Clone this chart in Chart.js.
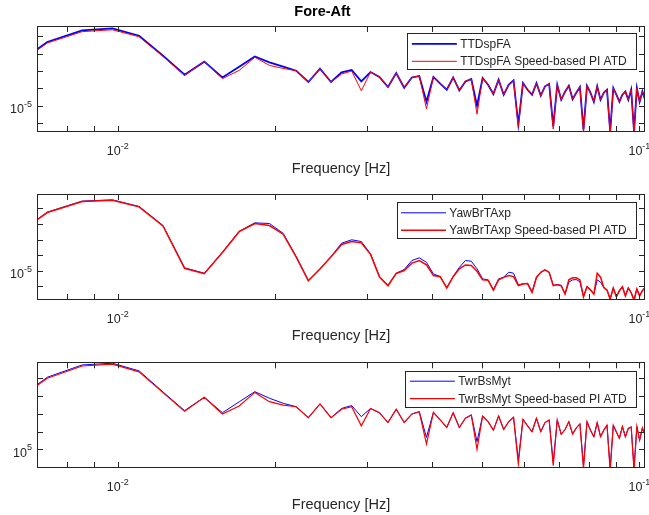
<!DOCTYPE html>
<html lang="en">
<head>
<meta charset="UTF-8">
<title>Fore-Aft</title>
<script src="https://cdn.jsdelivr.net/npm/chart.js"></script>
<style>
  body { margin: 0; background: #fff; }
  .panel { position: absolute; left: 0; width: 649px; }
</style>
</head>
<body>
<div class="panel" style="top:0;height:180px"><canvas id="chartFA"></canvas></div>
<div class="panel" style="top:180px;height:168px"><canvas id="chartYaw"></canvas></div>
<div class="panel" style="top:348px;height:167px"><canvas id="chartTwr"></canvas></div>

<script>
// frequency bins [Hz]
const freq = [
  0.0061035, 0.0073242, 0.0085449, 0.0097656, 0.010986, 0.012207, 0.013428, 0.014648, 0.015869, 0.01709,
  0.018311, 0.019531, 0.020752, 0.021973, 0.023193, 0.024414, 0.025635, 0.026855, 0.028076, 0.029297,
  0.030518, 0.031738, 0.032959, 0.03418, 0.0354, 0.036621, 0.037842, 0.039063, 0.040283, 0.041504,
  0.042725, 0.043945, 0.045166, 0.046387, 0.047607, 0.048828, 0.050049, 0.05127, 0.05249, 0.053711,
  0.054932, 0.056152, 0.057373, 0.058594, 0.059814, 0.061035, 0.062256, 0.063477, 0.064697, 0.065918,
  0.067139, 0.068359, 0.06958, 0.070801, 0.072021, 0.073242, 0.074463, 0.075684, 0.076904, 0.078125,
  0.079346, 0.080566, 0.081787, 0.083008, 0.084229, 0.085449, 0.08667, 0.087891, 0.089111, 0.090332,
  0.091553, 0.092773, 0.093994, 0.095215, 0.096436, 0.097656, 0.098877, 0.1001, 0.10132, 0.10254
];

// TTDspFA
const faBase = [
  8.4e-4, 4.6e-2, 0.213, 0.277, 0.105, 7.5e-3, 6.0e-4, 3.4e-3, 4.2e-4, 1.74e-3,
  6.8e-3, 3.1e-3, 1.74e-3, 1.03e-3, 2.3e-4, 1.34e-3, 2.3e-4, 8.2e-4, 1.13e-3, 2.5e-4,
  8.6e-4, 4.5e-4, 1.19e-4, 7.6e-4, 1.08e-4, 4.2e-4, 5.1e-4, 1.7e-5, 4.5e-4, 1.84e-4,
  8.3e-5, 4.2e-4, 7.6e-5, 2.5e-4, 3.4e-4, 1.0e-5, 3.9e-4, 1.6e-4, 4.7e-5, 3.1e-4,
  4.3e-5, 1.6e-4, 2.9e-4, 8.6e-7, 2.0e-4, 8.3e-5, 4.3e-5, 2.0e-4, 3.8e-5, 1.3e-4,
  1.8e-4, 6.5e-7, 1.6e-4, 2.2e-5, 6.4e-5, 1.4e-4, 2.4e-5, 5.6e-5, 1.2e-4, 4.2e-7,
  1.4e-4, 5.6e-5, 1.7e-5, 1.3e-4, 2.2e-5, 5.6e-5, 8.3e-5, 3.3e-7, 1.04e-4, 4.3e-5,
  1.7e-5, 4.3e-5, 6.6e-5, 2.2e-5, 8.3e-5, 3.3e-7, 1.04e-4, 1.7e-5, 6.6e-5, 2.2e-5
];
const faAtd = [
  8.4e-4, 4.0e-2, 0.18, 0.23, 0.092, 6.8e-3, 5.6e-4, 3.4e-3, 3.6e-4, 1.07e-3,
  6.1e-3, 2.07e-3, 1.39e-3, 1.03e-3, 2.3e-4, 1.34e-3, 2.3e-4, 6.6e-4, 9.9e-4, 7.3e-5,
  8.6e-4, 4.5e-4, 1.19e-4, 7.6e-4, 1.08e-4, 4.2e-4, 5.1e-4, 6.7e-6, 4.5e-4, 1.84e-4,
  8.3e-5, 4.2e-4, 7.6e-5, 2.5e-4, 3.4e-4, 3.3e-6, 3.9e-4, 1.6e-4, 4.7e-5, 3.1e-4,
  4.3e-5, 1.6e-4, 2.9e-4, 6.0e-7, 2.0e-4, 8.3e-5, 4.3e-5, 2.0e-4, 3.8e-5, 1.3e-4,
  1.8e-4, 4.5e-7, 1.6e-4, 2.2e-5, 6.4e-5, 1.4e-4, 2.4e-5, 5.6e-5, 1.2e-4, 3.0e-7,
  1.4e-4, 5.6e-5, 1.7e-5, 1.3e-4, 2.2e-5, 5.6e-5, 8.3e-5, 2.5e-7, 1.04e-4, 4.3e-5,
  1.7e-5, 4.3e-5, 6.6e-5, 2.2e-5, 8.3e-5, 2.5e-7, 1.04e-4, 1.7e-5, 6.6e-5, 2.2e-5
];

// YawBrTAxp
const yawBase = [
  6.8e-4, 5.8e-2, 0.30, 0.36, 0.135, 8.0e-3, 1.5e-5, 6.7e-6, 1.5e-4, 3.4e-3,
  1.19e-2, 1.08e-2, 2.5e-3, 8.0e-5, 2.3e-6, 1.3e-5, 8.0e-5, 5.8e-4, 9.6e-4, 7.4e-4,
  1.2e-4, 4.1e-6, 1.1e-6, 6.7e-6, 1.16e-5, 4.4e-5, 6.6e-5, 3.4e-5, 6.1e-6, 4.1e-6,
  7.7e-7, 4.1e-6, 1.6e-5, 4.4e-5, 4.0e-5, 1.3e-5, 2.9e-6, 2.5e-6, 5.7e-7, 2.9e-6,
  3.7e-6, 7.8e-6, 6.7e-6, 1.2e-6, 1.4e-6, 1.5e-6, 4.0e-7, 3.7e-6, 7.8e-6, 1.1e-5,
  7.8e-6, 1.1e-6, 1.25e-6, 1.1e-6, 3.1e-7, 1.8e-6, 2.5e-6, 2.6e-6, 1.9e-6, 2.1e-7,
  9.3e-7, 5.9e-7, 3.1e-7, 2.5e-6, 1.8e-6, 8.0e-7, 5.7e-7, 1.5e-7, 7.7e-7, 2.1e-7,
  5.1e-7, 9.3e-7, 2.4e-7, 7.7e-7, 3.8e-7, 1.3e-7, 6.6e-7, 2.4e-7, 5.1e-7, 8.4e-7
];
const yawAtd = [
  6.8e-4, 5.5e-2, 0.28, 0.34, 0.128, 7.5e-3, 1.4e-5, 6.3e-6, 1.45e-4, 3.2e-3,
  1.07e-2, 8.0e-3, 2.2e-3, 7.5e-5, 2.2e-6, 1.25e-5, 7.6e-5, 4.75e-4, 7.4e-4, 6.1e-4,
  1.1e-4, 3.9e-6, 1.05e-6, 6.5e-6, 1.0e-5, 3.0e-5, 4.4e-5, 2.3e-5, 4.75e-6, 4.0e-6,
  7.5e-7, 4.0e-6, 1.29e-5, 2.3e-5, 2.1e-5, 9.0e-6, 2.5e-6, 2.4e-6, 5.5e-7, 2.5e-6,
  3.6e-6, 4.75e-6, 4.1e-6, 1.08e-6, 1.35e-6, 1.45e-6, 3.9e-7, 3.6e-6, 7.6e-6, 1.1e-5,
  7.6e-6, 1.05e-6, 1.2e-6, 1.05e-6, 3.0e-7, 2.5e-6, 3.4e-6, 3.4e-6, 2.5e-6, 2.0e-7,
  9.0e-7, 5.7e-7, 3.0e-7, 6.7e-6, 3.7e-6, 8.0e-7, 5.5e-7, 1.4e-7, 7.5e-7, 2.0e-7,
  5.0e-7, 9.0e-7, 2.3e-7, 7.5e-7, 3.7e-7, 1.2e-7, 6.5e-7, 2.3e-7, 5.0e-7, 8.2e-7
];

// TwrBsMyt
const twrBase = [
  2.3e7, 1.14e9, 5.6e9, 7.0e9, 2.6e9, 1.7e8, 1.5e7, 8.5e7, 1.15e7, 4.7e7,
  1.76e8, 7.5e7, 3.9e7, 2.5e7, 6.0e6, 3.6e7, 6.0e6, 2.0e7, 2.9e7, 6.9e6,
  2.0e7, 1.15e7, 3.2e6, 1.8e7, 3.2e6, 9.7e6, 1.3e7, 4.7e5, 1.2e7, 4.5e6,
  1.7e6, 1.15e7, 1.7e6, 5.6e6, 8.6e6, 2.7e5, 7.5e6, 3.6e6, 1.2e6, 7.5e6,
  1.3e6, 3.6e6, 6.4e6, 2.5e4, 4.9e6, 2.1e6, 9.8e5, 5.6e6, 9.8e5, 3.2e6,
  4.5e6, 1.8e4, 4.5e6, 7.0e5, 1.3e6, 3.6e6, 7.2e5, 1.6e6, 2.7e6, 1.2e4,
  3.6e6, 1.2e6, 5.1e5, 3.2e6, 5.1e5, 1.2e6, 2.3e6, 8.8e3, 2.3e6, 9.4e5,
  4.2e5, 1.9e6, 5.1e5, 1.5e6, 1.8e6, 8.8e3, 1.9e6, 3.3e5, 1.6e6, 6.4e5
];
const twrAtd = [
  2.3e7, 1.0e9, 4.9e9, 6.2e9, 2.3e9, 1.55e8, 1.4e7, 8.5e7, 9.7e6, 2.75e7,
  1.6e8, 4.8e7, 3.1e7, 2.5e7, 6.0e6, 3.6e7, 6.0e6, 1.8e7, 2.5e7, 2.1e6,
  2.0e7, 1.15e7, 3.2e6, 1.8e7, 3.2e6, 9.7e6, 1.3e7, 2.0e5, 1.2e7, 4.5e6,
  1.7e6, 1.15e7, 1.7e6, 5.6e6, 8.6e6, 1.0e5, 7.5e6, 3.6e6, 1.2e6, 7.5e6,
  1.3e6, 3.6e6, 6.4e6, 1.5e4, 4.9e6, 2.1e6, 9.8e5, 5.6e6, 9.8e5, 3.2e6,
  4.5e6, 1.2e4, 4.5e6, 7.0e5, 1.3e6, 3.6e6, 7.2e5, 1.6e6, 2.7e6, 8.0e3,
  3.6e6, 1.2e6, 5.1e5, 3.2e6, 5.1e5, 1.2e6, 2.3e6, 6.0e3, 2.3e6, 9.4e5,
  4.2e5, 1.9e6, 5.1e5, 1.5e6, 1.8e6, 6.0e3, 1.9e6, 3.3e5, 1.6e6, 6.4e5
];

// axis ticks
const xTicks = [0.008, 0.009, 0.01, 0.02, 0.03, 0.04, 0.05, 0.06, 0.07, 0.08, 0.09, 0.1];
const xTickLabels = [[0.01, '-2'], [0.1, '-1']];
const faTicks = [1e-6, 1e-5, 1e-4, 1e-3, 1e-2, 1e-1];
const yawTicks = [1e-6, 1e-5, 1e-4, 1e-3, 1e-2, 1e-1];
const twrTicks = [1e4, 1e5, 1e6, 1e7, 1e8, 1e9];

const FONT = "'Liberation Sans', Arial, Helvetica, sans-serif";
const INK = '#262626';
Chart.defaults.font.family = FONT;
Chart.defaults.color = INK;

// draw "10" with a superscript exponent
function powerLabel(ctx, exp, x, y, align) {
  ctx.font = '12.5px ' + FONT;
  const wb = ctx.measureText('10').width;
  ctx.font = '9px ' + FONT;
  const we = ctx.measureText(exp).width;
  let left = x;
  if (align === 'center') left = x - (wb + we) / 2;
  if (align === 'right') left = x - (wb + we);
  ctx.textAlign = 'left';
  ctx.textBaseline = 'alphabetic';
  ctx.font = '12.5px ' + FONT;
  ctx.fillText('10', left, y);
  ctx.font = '9px ' + FONT;
  ctx.fillText(exp, left + wb, y - 6.5);
}

// MATLAB-like box, inward ticks, labels and legend
const matlabAxes = {
  id: 'matlabAxes',
  afterDatasetsDraw(chart, args, opts) {
    const { ctx, chartArea: a, scales: { x, y } } = chart;
    ctx.save();
    ctx.strokeStyle = INK;
    ctx.lineWidth = 1;
    ctx.beginPath();
    x.ticks.forEach(t => {
      const px = Math.round(x.getPixelForValue(t.value)) + 0.5;
      ctx.moveTo(px, a.bottom); ctx.lineTo(px, a.bottom - 6);
      ctx.moveTo(px, a.top); ctx.lineTo(px, a.top + 6);
    });
    y.ticks.forEach(t => {
      const py = Math.round(y.getPixelForValue(t.value)) + 0.5;
      ctx.moveTo(a.left, py); ctx.lineTo(a.left + 6, py);
      ctx.moveTo(a.right, py); ctx.lineTo(a.right - 6, py);
    });
    ctx.stroke();
    ctx.strokeRect(Math.round(a.left) + 0.5, Math.round(a.top) + 0.5,
                   Math.round(a.width) - 1, Math.round(a.height) - 1);

    ctx.fillStyle = INK;
    xTickLabels.forEach(([v, e]) => {
      powerLabel(ctx, e, x.getPixelForValue(v), a.bottom + 23, 'center');
    });
    powerLabel(ctx, opts.yExp, a.left - 5, y.getPixelForValue(opts.yLabelAt) + 7.5, 'right');

    // legend
    const ds = chart.data.datasets;
    ctx.font = '12px ' + FONT;
    const tw = Math.max(...ds.map(d => ctx.measureText(d.label).width));
    const w = 4.4 + 48.3 + tw + 9.3;
    const right = a.right - 9;
    const left = right - w;
    const top = a.top + opts.legendTop;
    ctx.fillStyle = '#fff';
    ctx.fillRect(left, top, w, 36);
    ctx.strokeStyle = INK;
    ctx.strokeRect(Math.round(left) + 0.5, Math.round(top) + 0.5, Math.round(w), 36);
    ds.forEach((d, i) => {
      const cy = top + 10.5 + i * 17.5;
      ctx.strokeStyle = d.borderColor;
      ctx.lineWidth = d.borderWidth;
      ctx.beginPath();
      ctx.moveTo(left + 4.4, cy); ctx.lineTo(left + 49.4, cy);
      ctx.stroke();
      ctx.fillStyle = INK;
      ctx.textAlign = 'left';
      ctx.textBaseline = 'middle';
      ctx.fillText(d.label, left + 52.7, cy + 0.5);
    });
    ctx.restore();
  }
};

function makeChart(id, cfg) {
  const pts = vals => freq.map((f, i) => ({ x: f, y: vals[i] }));
  return new Chart(document.getElementById(id), {
    type: 'line',
    data: {
      datasets: [
        { label: cfg.names[0], data: pts(cfg.base), borderColor: '#0000ff', borderWidth: cfg.widths[0], order: 1 },
        { label: cfg.names[1], data: pts(cfg.atd), borderColor: '#ff0000', borderWidth: cfg.widths[1], order: 0 }
      ]
    },
    options: {
      responsive: true,
      maintainAspectRatio: false,
      animation: false,
      events: [],
      elements: { point: { radius: 0 }, line: { tension: 0 } },
      datasets: { line: { clip: 0 } },
      layout: { padding: { left: 0, right: 4, top: cfg.padTop, bottom: 0 } },
      plugins: {
        legend: { display: false },
        tooltip: { enabled: false },
        title: {
          display: !!cfg.title,
          text: cfg.title,
          font: { size: 14.5, weight: 'bold' },
          color: '#000',
          padding: { top: 3.5, bottom: 5.1 }
        },
        matlabAxes: { yExp: cfg.yExp, yLabelAt: cfg.yLabelAt, legendTop: cfg.legendTop }
      },
      scales: {
        x: {
          type: 'logarithmic',
          min: 0.007,
          max: 0.1025,
          grid: { display: false },
          border: { display: false },
          ticks: { display: false },
          afterBuildTicks: s => { s.ticks = xTicks.map(v => ({ value: v })); },
          afterFit: s => { s.height = cfg.xAxisH; },
          title: {
            display: true,
            text: 'Frequency [Hz]',
            font: { size: 14.5 },
            color: INK,
            padding: { top: 0, bottom: cfg.titlePad }
          }
        },
        y: {
          type: 'logarithmic',
          min: cfg.yMin,
          max: cfg.yMax,
          grid: { display: false },
          border: { display: false },
          ticks: { display: false },
          afterBuildTicks: s => { s.ticks = cfg.yTicks.map(v => ({ value: v })); },
          afterFit: s => { s.width = 37; }
        }
      }
    },
    plugins: [matlabAxes]
  });
}

makeChart('chartFA', {
  title: 'Fore-Aft', padTop: 0, xAxisH: 48, titlePad: 2.3,
  names: ['TTDspFA', 'TTDspFA Speed-based PI ATD'], base: faBase, atd: faAtd, widths: [1.8, 1],
  yMin: 3.1e-7, yMax: 0.38, yTicks: faTicks, yExp: '-5', yLabelAt: 1e-5, legendTop: 7.3
});
makeChart('chartYaw', {
  title: '', padTop: 14, xAxisH: 48, titlePad: 3.3,
  names: ['YawBrTAxp', 'YawBrTAxp Speed-based PI ATD'], base: yawBase, atd: yawAtd, widths: [1, 1.5],
  yMin: 1.26e-7, yMax: 0.86, yTicks: yawTicks, yExp: '-5', yLabelAt: 1e-5, legendTop: 8.3
});
makeChart('chartTwr', {
  title: '', padTop: 14.3, xAxisH: 47, titlePad: 1.3,
  names: ['TwrBsMyt', 'TwrBsMyt Speed-based PI ATD'], base: twrBase, atd: twrAtd, widths: [1, 1.2],
  yMin: 8.9e3, yMax: 7.9e9, yTicks: twrTicks, yExp: '5', yLabelAt: 1e5, legendTop: 8.4
});
</script>
</body>
</html>
